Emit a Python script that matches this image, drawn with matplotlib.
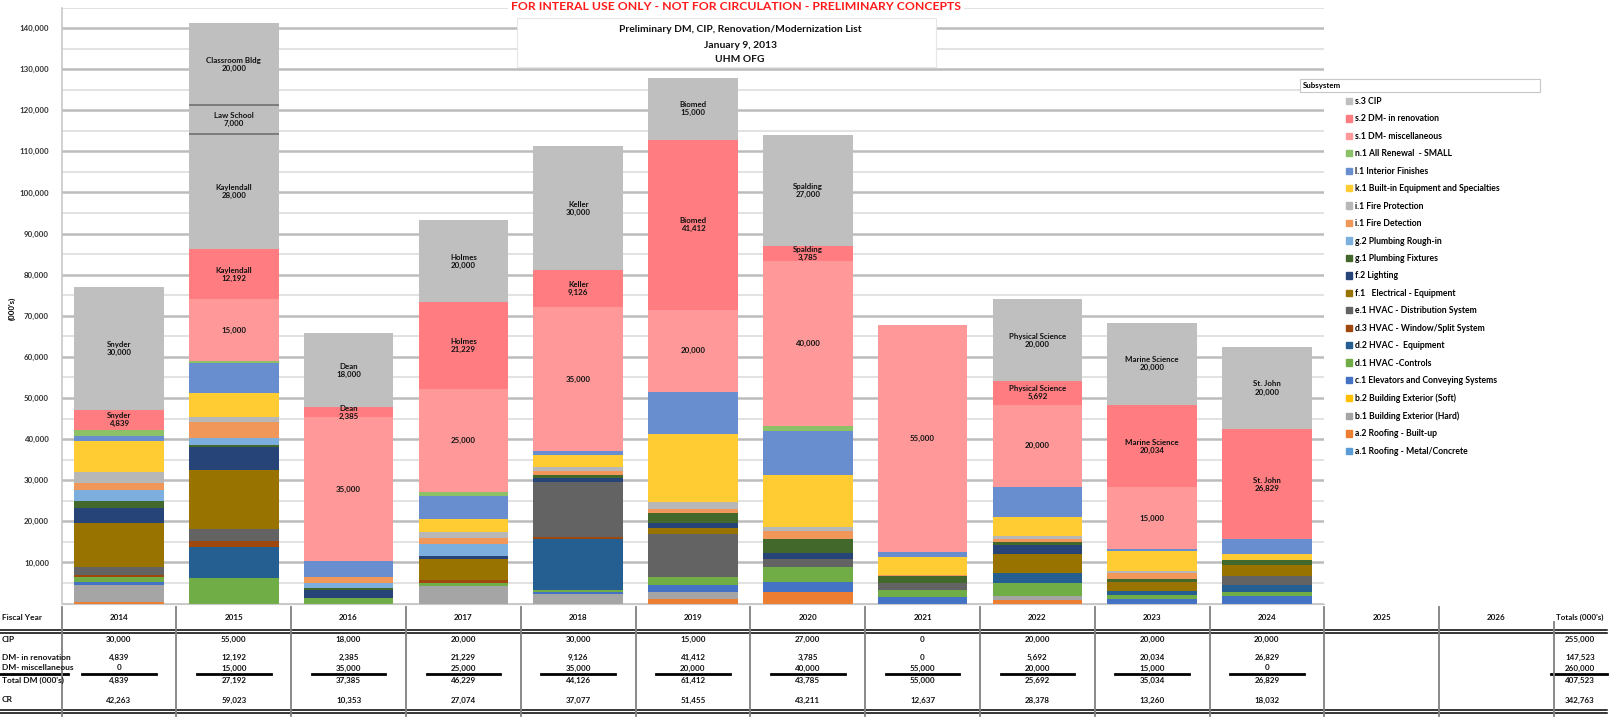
import numpy as np
import matplotlib
matplotlib.use('Agg')
import matplotlib.pyplot as plt
from matplotlib.patches import Patch, Rectangle

plt.rcParams['font.family'] = ['Lato', 'DejaVu Sans']

############ data ##################
years = ['2014', '2015', '2016', '2017', '2018', '2019', '2020', '2021', '2022', '2023', '2024']
extra_years = ['2025', '2026']
projects = ['Snyder', 'Kaylendall', 'Dean', 'Holmes', 'Keller', 'Biomed', 'Spalding', '',
            'Physical Science', 'Marine Science', 'St. John']

cip = [30000, 55000, 18000, 20000, 30000, 15000, 27000, 0, 20000, 20000, 20000]
dm_reno = [4839, 12192, 2385, 21229, 9126, 41412, 3785, 0, 5692, 20034, 26829]
dm_misc = [0, 15000, 35000, 25000, 35000, 20000, 40000, 55000, 20000, 15000, 0]
cr = [42263, 59023, 10353, 27074, 37077, 51455, 43211, 12637, 28378, 13260, 18032]

# 2015 CIP is shown as three buildings
cip_2015_names = ['Kaylendall', 'Law School', 'Classroom Bldg']
cip_2015_parts = [28000, 7000, 20000]

# renewal subsystems (bottom to top)
a1 = [0, 0, 0, 0, 0, 0, 0, 0, 0, 0, 0]
a2 = [400, 0, 0, 0, 0, 1000, 2900, 0, 800, 0, 0]
b1 = [4100, 0, 0, 4300, 2300, 1900, 0, 0, 1000, 0, 0]
b2 = [0, 0, 0, 0, 0, 0, 0, 0, 0, 0, 0]
c1 = [800, 0, 0, 0, 500, 1600, 2400, 1600, 0, 1000, 1750]
d1 = [1200, 6100, 1300, 700, 500, 2000, 3650, 1650, 3100, 1000, 1100]
d2 = [0, 7540, 0, 0, 12500, 0, 0, 0, 2400, 1000, 1600]
d3 = [400, 1540, 0, 800, 400, 0, 0, 0, 0, 0, 0]
e1 = [1900, 2840, 0, 0, 13377, 10500, 1800, 1800, 0, 0, 2200]
f1 = [10800, 14573, 0, 5000, 0, 1450, 0, 0, 4700, 2200, 2700]
f2 = [3650, 5520, 2100, 800, 900, 1150, 1600, 0, 2200, 0, 0]
g1 = [1600, 400, 400, 0, 800, 2300, 3250, 1600, 800, 800, 1200]
g2 = [2850, 1780, 1250, 2760, 0, 0, 0, 0, 0, 0, 0]
i1_det = [1550, 3890, 1450, 1620, 1000, 1200, 2100, 400, 600, 1400, 0]
i1_prot = [2750, 1220, 0, 1460, 1000, 1650, 1000, 0, 800, 600, 0]
k1 = [7600, 5920, 0, 3000, 2900, 16455, 12550, 4300, 4700, 4660, 1450]
l1 = [1150, 7300, 3853, 5824, 900, 10250, 10761, 1287, 7278, 600, 3600]
n1 = [1513, 400, 0, 810, 0, 0, 1200, 0, 0, 0, 0]

subsystems = [
    ('a.1 Roofing - Metal/Concrete', '#5B9BD5', a1),
    ('a.2 Roofing - Built-up', '#ED7D31', a2),
    ('b.1 Building Exterior (Hard)', '#A5A5A5', b1),
    ('b.2 Building Exterior (Soft)', '#FFC000', b2),
    ('c.1 Elevators and Conveying Systems', '#4472C4', c1),
    ('d.1 HVAC -Controls', '#70AD47', d1),
    ('d.2 HVAC -  Equipment', '#255E91', d2),
    ('d.3 HVAC - Window/Split System', '#9E480E', d3),
    ('e.1 HVAC - Distribution System', '#636363', e1),
    ('f.1   Electrical - Equipment', '#997300', f1),
    ('f.2 Lighting', '#264478', f2),
    ('g.1 Plumbing Fixtures', '#43682B', g1),
    ('g.2 Plumbing Rough-in', '#7CAFDD', g2),
    ('i.1 Fire Detection', '#F1975A', i1_det),
    ('i.1 Fire Protection', '#B7B7B7', i1_prot),
    ('k.1 Built-in Equipment and Specialties', '#FFCD33', k1),
    ('l.1 Interior Finishes', '#698ED0', l1),
    ('n.1 All Renewal  - SMALL', '#8CC168', n1),
]
s1_col, s2_col, s3_col = '#FF9999', '#FF7C80', '#BFBFBF'

############ layout (pixels) ##################
W, H = 1621, 720
left_px, col_w, n = 61.6, 114.8, len(years)
zero_px, top_px = 603.5, 7.5
lbl = dict(fontsize=5.7, fontweight='bold', ha='center', va='center', color='#111111', linespacing=1.15)

fig = plt.figure(figsize=(W / 100, H / 100), dpi=100)
ax = fig.add_axes([left_px / W, 1 - zero_px / H, n * col_w / W, (zero_px - top_px) / H])

x = np.arange(n)
bw = 0.78
bottom = np.zeros(n)
for name, color, vals in subsystems:
    ax.bar(x, vals, bw, bottom=bottom, color=color, linewidth=0, zorder=2)
    bottom += np.array(vals)

# DM miscellaneous
ax.bar(x, dm_misc, bw, bottom=bottom, color=s1_col, linewidth=0, zorder=2)
for i in range(n):
    if dm_misc[i] > 0:
        ax.text(x[i], bottom[i] + dm_misc[i] / 2, f'{dm_misc[i]:,}', **lbl)
bottom += np.array(dm_misc)

# DM in renovation
ax.bar(x, dm_reno, bw, bottom=bottom, color=s2_col, linewidth=0, zorder=2)
for i in range(n):
    if dm_reno[i] > 0:
        ax.text(x[i], bottom[i] + dm_reno[i] / 2, f'{projects[i]}\n{dm_reno[i]:,}', **lbl)
bottom += np.array(dm_reno)

# CIP
for i in range(n):
    if i == 1:
        b = bottom[i]
        for j, (pname, pv) in enumerate(zip(cip_2015_names, cip_2015_parts)):
            ax.bar(x[i], pv, bw, bottom=b, color=s3_col, linewidth=0, zorder=2)
            ax.text(x[i], b + pv / 2, f'{pname}\n{pv:,}', **lbl)
            if j > 0:
                ax.hlines(b, x[i] - bw / 2, x[i] + bw / 2, color='#707070', lw=1.2, zorder=3)
            b += pv
    elif cip[i] > 0:
        ax.bar(x[i], cip[i], bw, bottom=bottom[i], color=s3_col, linewidth=0, zorder=2)
        ax.text(x[i], bottom[i] + cip[i] / 2, f'{projects[i]}\n{cip[i]:,}', **lbl)

ax.set_xlim(-0.5, n - 0.5)
ax.set_ylim(0, 145000)
ax.set_yticks(range(0, 140001, 10000))
ax.set_yticks(range(5000, 145001, 10000), minor=True)
ax.set_yticklabels([f'{v:,}' if v > 0 else '' for v in range(0, 140001, 10000)],
                   fontsize=5.7, fontweight='bold', color='#333333')
ax.set_xticks([])
ax.tick_params(axis='y', which='both', length=0, pad=9)
ax.grid(which='major', axis='y', color='#bcbcbc', lw=1.8, zorder=0)
ax.grid(which='minor', axis='y', color='#dadada', lw=1.1, zorder=0)
ax.set_axisbelow(True)
for s in ['top', 'right']:
    ax.spines[s].set_visible(False)
ax.spines['left'].set_color('#c8c8c8')
ax.spines['bottom'].set_color('#c8c8c8')
ax.spines['left'].set_linewidth(1.2)
fig.text(12 / W, 1 - 308 / H, "(000's)", rotation=90, fontsize=5.7, fontweight='bold', ha='center', va='center')

handles = [Patch(color=c) for _, c, _ in subsystems] + [Patch(color=s1_col), Patch(color=s2_col), Patch(color=s3_col)]
labels = [nm for nm, _, _ in subsystems] + ['s.1 DM- miscellaneous', 's.2 DM- in renovation', 's.3 CIP']
ax.legend(handles[::-1], labels[::-1], loc='upper left', bbox_to_anchor=(1346 / W, 1 - 97 / H),
          bbox_transform=fig.transFigure, frameon=False, prop={'size': 6.2, 'weight': 'bold'},
          handlelength=0.75, handleheight=0.75, handletextpad=0.3, labelspacing=0.98,
          borderpad=0, borderaxespad=0)

############ overlay: titles and table ##################
ov = fig.add_axes([0, 0, 1, 1])
ov.set_xlim(0, W)
ov.set_ylim(H, 0)
ov.axis('off')

ov.add_patch(Rectangle((508, 0), 456, 13, facecolor='white', edgecolor='none'))
ov.text(736, 6, 'FOR INTERAL USE ONLY - NOT FOR CIRCULATION - PRELIMINARY CONCEPTS',
        color='#FF1A1A', fontsize=8.8, fontweight='bold', ha='center', va='center')
ov.add_patch(Rectangle((517, 18), 419, 49, facecolor='white', edgecolor='#e6e6e6', lw=0.8))
for ty, t in zip([29, 45, 60], ['Preliminary DM, CIP, Renovation/Modernization List', 'January 9, 2013', 'UHM OFG']):
    ov.text(740, ty, t, fontsize=7.4, fontweight='bold', ha='center', va='center', color='#111111')

ov.add_patch(Rectangle((1300, 79), 240, 13, facecolor='white', edgecolor='#c8c8c8', lw=0.8))
ov.text(1303, 85.5, 'Subsystem', fontsize=5.7, fontweight='bold', ha='left', va='center')

# table
def col_x(k):
    return left_px + (k + 0.5) * col_w

tot_x = 1580
row_y = {'hdr': 617, 'cip': 639, 'reno': 657, 'misc': 668, 'tot': 680, 'cr': 700}
tab = dict(fontsize=5.8, fontweight='bold', ha='center', va='center', color='#111111')
row_lbl = dict(fontsize=6.0, fontweight='bold', ha='left', va='center', color='#111111')

total_dm = [r + m for r, m in zip(dm_reno, dm_misc)]
rows = [('cip', 'CIP', cip), ('reno', 'DM- in renovation', dm_reno),
        ('misc', 'DM- miscellaneous', dm_misc), ('tot', "Total DM (000's)", total_dm), ('cr', 'CR', cr)]

ov.text(2, row_y['hdr'], 'Fiscal Year', **row_lbl)
for k, yr in enumerate(years + extra_years):
    ov.text(col_x(k), row_y['hdr'], yr, **tab)
ov.text(tot_x, row_y['hdr'], "Totals (000's)", **tab)

for key, name, vals in rows:
    ov.text(2, row_y[key], name, **row_lbl)
    for k, v in enumerate(vals):
        ov.text(col_x(k), row_y[key], f'{v:,}', **tab)
    ov.text(tot_x, row_y[key], f'{sum(vals):,}', **tab)

# rules
for yy in [629.5, 632.5, 709.5, 712.5]:
    ov.plot([0, 1607], [yy, yy], color='black', lw=1.1)
ov.plot([0, 68], [673.8, 673.8], color='black', lw=2)
for k in range(n):
    ov.plot([col_x(k) - 0.32 * col_w, col_x(k) + 0.32 * col_w], [673.8, 673.8], color='black', lw=2)
ov.plot([1551, 1607], [673.8, 673.8], color='black', lw=2)
for k in range(n + 3):
    xx = left_px + k * col_w
    ov.plot([xx, xx], [622 if k == n + 2 else 607, 716], color='#808080', lw=1.3)

fig.savefig('out.png', dpi=100)
